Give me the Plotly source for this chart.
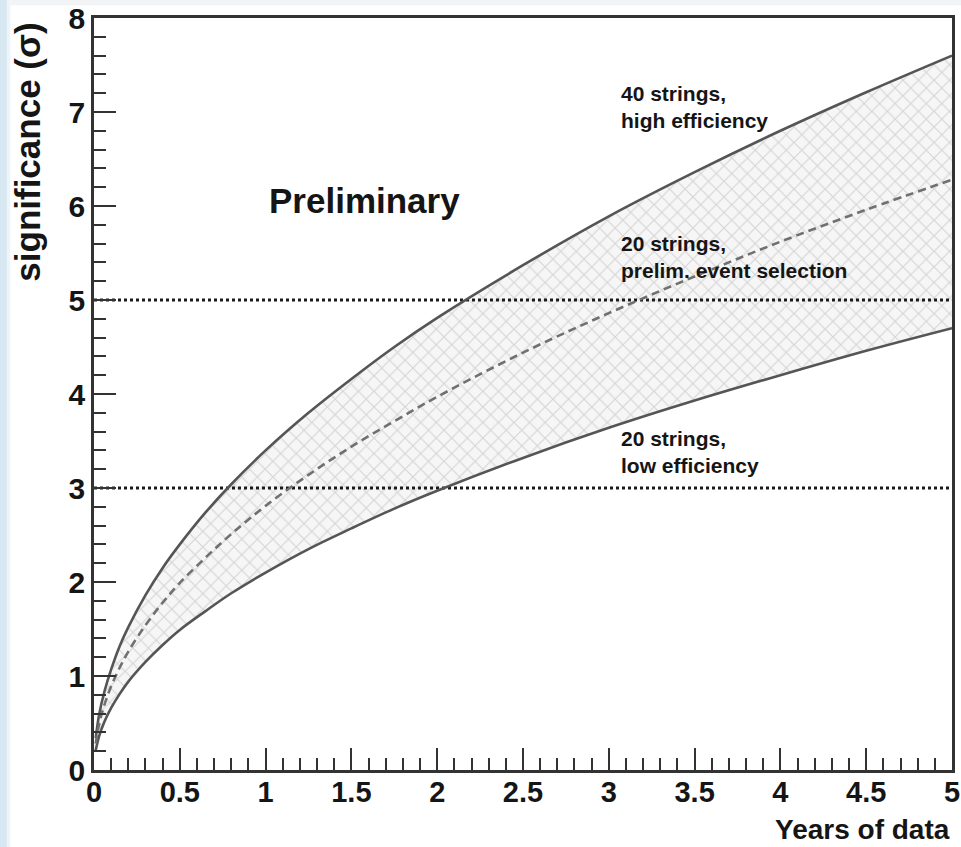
import plotly.graph_objects as go

# ---- data ----
years = [0.01, 0.03, 0.06, 0.1, 0.15, 0.2, 0.3, 0.4, 0.5, 0.65, 0.8, 1.0, 1.25, 1.5,
         1.75, 2.0, 2.5, 3.0, 3.5, 4.0, 4.5, 5.0]
sig_high = [0.34, 0.59, 0.83, 1.07, 1.32, 1.52, 1.86, 2.15, 2.40, 2.74, 3.04, 3.40, 3.80,
            4.16, 4.50, 4.81, 5.37, 5.89, 6.36, 6.80, 7.21, 7.60]
sig_low = [0.21, 0.36, 0.51, 0.66, 0.81, 0.94, 1.15, 1.33, 1.49, 1.69, 1.88, 2.10, 2.35,
           2.57, 2.78, 2.97, 3.32, 3.64, 3.93, 4.20, 4.46, 4.70]
sig_prelim = [0.28, 0.49, 0.69, 0.89, 1.09, 1.26, 1.54, 1.78, 1.99, 2.26, 2.51, 2.81, 3.14,
              3.44, 3.71, 3.97, 4.44, 4.86, 5.25, 5.62, 5.96, 6.28]
thresholds = [3, 5]
x_range = [0, 5]
y_range = [0, 8]
x_ticks = [0, 0.5, 1, 1.5, 2, 2.5, 3, 3.5, 4, 4.5, 5]
x_ticklabels = ["0", "0.5", "1", "1.5", "2", "2.5", "3", "3.5", "4", "4.5", "5"]
y_ticks = [0, 1, 2, 3, 4, 5, 6, 7, 8]

labels = [
    (3.057, 7.34, "40 strings,<br>high efficiency"),
    (3.057, 5.745, "20 strings,<br>prelim. event selection"),
    (3.057, 3.67, "20 strings,<br>low efficiency"),
]

NARROW = "Liberation Sans Narrow, Arial Narrow, Liberation Sans, Arial, sans-serif"
SANS = "Liberation Sans, Arial, sans-serif"
AX = "#333333"
TXT = "#151515"

fig = go.Figure()

# band (low -> high) with cross-hatch
fig.add_trace(go.Scatter(x=years, y=sig_low, mode="lines",
                         line=dict(color="rgba(0,0,0,0)", width=0, shape="spline"),
                         hoverinfo="skip", showlegend=False))
fig.add_trace(go.Scatter(x=years, y=sig_high, mode="lines", fill="tonexty",
                         fillcolor="#f4f4f4",
                         fillpattern=dict(shape="x", fgcolor="#b4b4b4", bgcolor="#f6f6f6",
                                          size=11, solidity=0.2),
                         line=dict(color="rgba(0,0,0,0)", width=0, shape="spline"),
                         hoverinfo="skip", showlegend=False))

# threshold lines
for t in thresholds:
    fig.add_trace(go.Scatter(x=x_range, y=[t, t], mode="lines",
                             line=dict(color="#1a1a1a", width=3, dash="dot"),
                             showlegend=False, hoverinfo="skip"))

# curves
fig.add_trace(go.Scatter(x=years, y=sig_high, mode="lines",
                         line=dict(color="#555555", width=2.6, shape="spline"), showlegend=False))
fig.add_trace(go.Scatter(x=years, y=sig_low, mode="lines",
                         line=dict(color="#555555", width=2.6, shape="spline"), showlegend=False))
fig.add_trace(go.Scatter(x=years, y=sig_prelim, mode="lines",
                         line=dict(color="#707070", width=2.6, dash="8px,5px", shape="spline"),
                         showlegend=False))

annotations = []
for lx, ly, txt in labels:
    annotations.append(dict(x=lx, y=ly, xref="x", yref="y", text=txt, showarrow=False,
                            xanchor="left", yanchor="top", align="left",
                            font=dict(family=NARROW, size=21, color=TXT, weight="bold")))
annotations.append(dict(x=1.009, y=6.29, xref="x", yref="y", text="Preliminary", showarrow=False,
                        xanchor="left", yanchor="top",
                        font=dict(family=NARROW, size=35, color=TXT, weight="bold")))
annotations.append(dict(x=1.0, y=-0.056, xref="paper", yref="paper", text="Years of data",
                        showarrow=False, xanchor="right", yanchor="top",
                        font=dict(family=NARROW, size=28, color=TXT, weight="bold")))
annotations.append(dict(x=-0.077, y=0.997, xref="paper", yref="paper", text="significance (σ)",
                        showarrow=False, xanchor="center", yanchor="top", textangle=-90,
                        font=dict(family=SANS, size=35, color=TXT, weight="bold")))

shapes = [
    dict(type="rect", xref="paper", yref="paper", x0=-0.1097, x1=-0.1015, y0=-0.103, y1=1.024,
         fillcolor="#d8e8f2", line=dict(width=0), layer="below"),
    dict(type="rect", xref="paper", yref="paper", x0=-0.1015, x1=-0.0975, y0=-0.103, y1=1.024,
         fillcolor="#eef5f9", line=dict(width=0), layer="below"),
    dict(type="rect", xref="paper", yref="paper", x0=-0.0975, x1=1.011, y0=1.017, y1=1.024,
         fillcolor="#f1f3f5", line=dict(width=0), layer="below"),
]

fig.update_layout(
    width=961, height=847,
    margin=dict(l=94, r=9, t=18, b=77, autoexpand=False),
    paper_bgcolor="white", plot_bgcolor="white",
    showlegend=False,
    annotations=annotations,
    shapes=shapes,
    xaxis=dict(range=x_range, tickmode="array", tickvals=x_ticks, ticktext=x_ticklabels,
               ticks="inside", ticklen=22, tickwidth=2, tickcolor=AX,
               minor=dict(ticks="inside", ticklen=12, dtick=0.1, tickwidth=2, tickcolor=AX),
               showline=True, linecolor=AX, linewidth=2.5, mirror=True,
               showgrid=False, zeroline=False, automargin=False,
               ticklabelstandoff=-6,
               tickfont=dict(family=NARROW, size=29, color=TXT, weight="bold")),
    yaxis=dict(range=y_range, tickmode="array", tickvals=y_ticks,
               ticks="inside", ticklen=22, tickwidth=2, tickcolor=AX,
               minor=dict(ticks="inside", ticklen=12, dtick=0.2, tickwidth=2, tickcolor=AX),
               showline=True, linecolor=AX, linewidth=2.5, mirror=True,
               showgrid=False, zeroline=False, automargin=False,
               tickfont=dict(family=NARROW, size=30, color=TXT, weight="bold")),
)

fig.write_html("out.html")
